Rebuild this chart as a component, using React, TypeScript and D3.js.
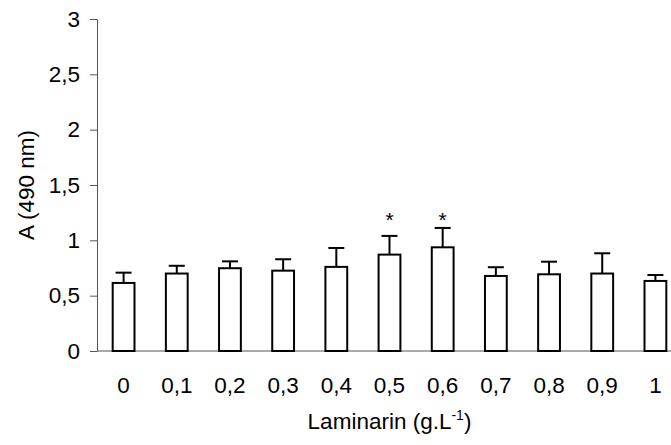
import React, { useEffect, useRef } from 'react';
import * as d3 from 'd3';

// laminarin concentration (g/L) and absorbance at 490 nm
const categories = ['0', '0,1', '0,2', '0,3', '0,4', '0,5', '0,6', '0,7', '0,8', '0,9', '1'];
const means = [0.615, 0.7, 0.748, 0.726, 0.76, 0.871, 0.937, 0.678, 0.693, 0.7, 0.633];
const errTop = [0.708, 0.77, 0.81, 0.829, 0.931, 1.04, 1.112, 0.757, 0.807, 0.883, 0.687];
const significant = ['0,5', '0,6'];
const starLevel = 1.12;
const yTicks = [0, 0.5, 1, 1.5, 2, 2.5, 3];

const W = 671;
const H = 445;

const App: React.FC = () => {
  const svgRef = useRef<SVGSVGElement>(null);

  useEffect(() => {
    if (!svgRef.current) return;
    const svg = d3.select(svgRef.current);
    svg.selectAll('*').remove();

    const font = 'Liberation Sans, Arial, sans-serif';
    const fs = 22.5;

    const x = d3.scaleBand<string>().domain(categories).range([97, 682]).padding(0);
    const y = d3.scaleLinear().domain([0, 3]).range([351, 19]);
    const barW = x.bandwidth() * 0.41;
    const capW = 16;

    const data = categories.map((c, i) => ({ c, m: means[i], e: errTop[i] }));

    // y axis
    const yAxis = svg.append('g')
      .attr('transform', 'translate(97,0)')
      .call(d3.axisLeft(y).tickValues(yTicks).tickSize(7).tickSizeOuter(0)
        .tickFormat(d => String(d).replace('.', ',')));
    yAxis.select('.domain').attr('stroke', '#555');
    yAxis.selectAll('.tick line').attr('stroke', '#555');
    yAxis.selectAll('.tick text')
      .attr('x', -17)
      .attr('fill', '#000')
      .style('font-family', font)
      .style('font-size', `${fs}px`);

    // x baseline
    svg.append('line')
      .attr('x1', x.range()[0]).attr('x2', x.range()[1])
      .attr('y1', y(0)).attr('y2', y(0))
      .attr('stroke', '#555').attr('stroke-width', 1);

    // error bars
    const eg = svg.append('g').attr('stroke', '#000').attr('stroke-width', 2);
    eg.selectAll('line.v').data(data).enter().append('line')
      .attr('x1', d => x(d.c)! + x.bandwidth() / 2)
      .attr('x2', d => x(d.c)! + x.bandwidth() / 2)
      .attr('y1', d => y(d.m)).attr('y2', d => y(d.e));
    eg.selectAll('line.h').data(data).enter().append('line')
      .attr('x1', d => x(d.c)! + x.bandwidth() / 2 - capW / 2)
      .attr('x2', d => x(d.c)! + x.bandwidth() / 2 + capW / 2)
      .attr('y1', d => y(d.e)).attr('y2', d => y(d.e));

    // bars
    svg.selectAll('rect.bar').data(data).enter().append('rect')
      .attr('x', d => x(d.c)! + (x.bandwidth() - barW) / 2)
      .attr('width', barW)
      .attr('y', d => y(d.m))
      .attr('height', d => y(0) - y(d.m))
      .attr('fill', '#fff')
      .attr('stroke', '#000')
      .attr('stroke-width', 2);

    // asterisks
    svg.selectAll('text.star').data(significant).enter().append('text')
      .attr('x', d => x(d)! + x.bandwidth() / 2)
      .attr('y', y(starLevel))
      .attr('text-anchor', 'middle')
      .style('font-family', font)
      .style('font-size', '21px')
      .text('*');

    // x labels
    svg.selectAll('text.xl').data(categories).enter().append('text')
      .attr('x', d => x(d)! + x.bandwidth() / 2)
      .attr('y', 393)
      .attr('text-anchor', 'middle')
      .style('font-family', font)
      .style('font-size', `${fs}px`)
      .text(d => d);

    // x title
    const xt = svg.append('text')
      .attr('x', (x.range()[0] + x.range()[1]) / 2)
      .attr('y', 429)
      .attr('text-anchor', 'middle')
      .style('font-family', font)
      .style('font-size', `${fs}px`);
    xt.append('tspan').text('Laminarin (g.L');
    xt.append('tspan').attr('dy', -9).style('font-size', '14px').text('-1');
    xt.append('tspan').attr('dy', 9).text(')');

    // y title
    svg.append('text')
      .attr('transform', `translate(34,${(y(0) + y(3)) / 2}) rotate(-90)`)
      .attr('text-anchor', 'middle')
      .style('font-family', font)
      .style('font-size', `${fs}px`)
      .text('A (490 nm)');
  }, []);

  return (
    <div style={{ position: 'fixed', left: 0, top: 0, width: W, height: H, background: '#fff' }}>
      <svg ref={svgRef} width={W} height={H} style={{ display: 'block', overflow: 'hidden' }} />
    </div>
  );
};

export default App;
